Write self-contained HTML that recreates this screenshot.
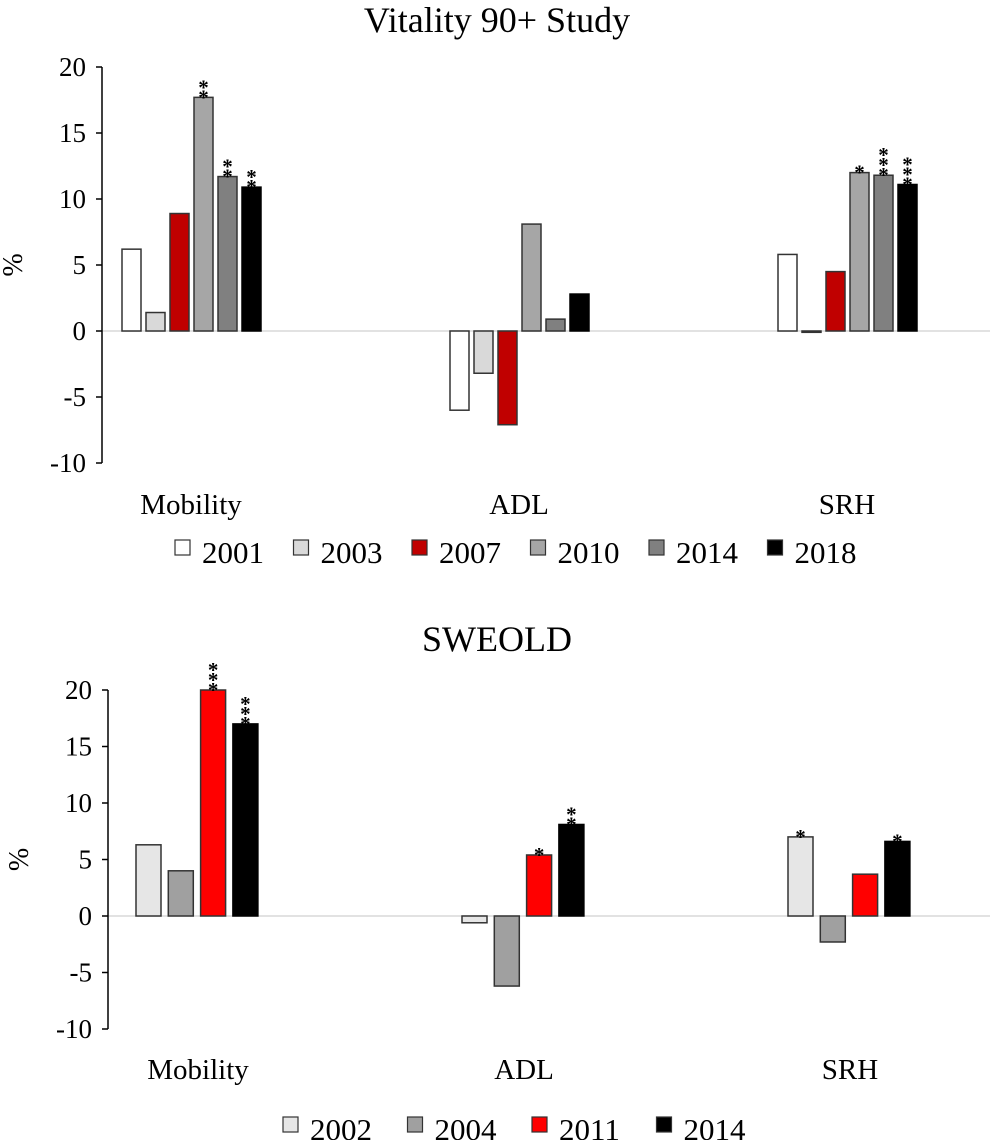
<!DOCTYPE html>
<html><head><meta charset="utf-8"><style>
html,body{margin:0;padding:0;background:#fff;}
svg{display:block;font-family:"Liberation Serif",serif;}
</style></head><body>
<svg width="995" height="1140" viewBox="0 0 995 1140" xmlns="http://www.w3.org/2000/svg">
<g id="top"></g>
<g id="bot"></g>
</svg>
<script>
const NS='http://www.w3.org/2000/svg';
const categories=['Mobility','ADL','SRH'];
const ticks=[20,15,10,5,0,-5,-10];
const topYears=['2001','2003','2007','2010','2014','2018'];
const topMobility=[6.2,1.4,8.9,17.7,11.7,10.9];
const topADL=[-6.0,-3.2,-7.1,8.1,0.9,2.8];
const topSRH=[5.8,-0.1,4.5,12.0,11.8,11.1];
const topStars=[['','','','**','**','**'],['','','','','',''],['','','','*','***','***']];
const botYears=['2002','2004','2011','2014'];
const botMobility=[6.3,4.0,20.0,17.0];
const botADL=[-0.6,-6.2,5.4,8.1];
const botSRH=[7.0,-2.3,3.7,6.6];
const botStars=[['','','***','***'],['','','*','**'],['*','','','*']];

function mk(p,tag,a,name,txt){const e=document.createElementNS(NS,tag);for(const k in a)e.setAttribute(k,a[k]);


if(txt!==undefined)e.textContent=txt;p.appendChild(e);return e;}

function draw(g,cfg){
  const y=v=>cfg.y0-v*cfg.scale;
  mk(g,'text',{x:cfg.titleX,y:cfg.titleY,'font-size':36,'text-anchor':'middle',fill:'#000'},'chart-title',cfg.title);
  mk(g,'line',{x1:cfg.ax,x2:990,y1:y(0),y2:y(0),stroke:'#d9d9d9','stroke-width':1.5},'zero-line');
  mk(g,'line',{x1:cfg.ax,x2:cfg.ax,y1:y(20),y2:y(-10),stroke:'#000','stroke-width':1.5},'y-axis');
  ticks.forEach(t=>{
    mk(g,'line',{x1:cfg.ax-6,x2:cfg.ax,y1:y(t),y2:y(t),stroke:'#000','stroke-width':1.5},'y-tick');
    mk(g,'text',{x:cfg.ax-16,y:y(t)+9,'font-size':27,'text-anchor':'end'},'y-tick-label',String(t));
  });
  mk(g,'text',{x:0,y:0,'font-size':28,'text-anchor':'middle',transform:`translate(${cfg.ax-80},${y(5)}) rotate(-90)`},'y-axis-title','%');
  cfg.series.forEach((vals,gi)=>{
    const gx=cfg.x0+gi*cfg.gap;
    mk(g,'text',{x:gx+cfg.labOff,y:cfg.labY,'font-size':29,'text-anchor':'middle'},'category-label',categories[gi]);
    vals.forEach((v,i)=>{
      const x=gx+i*cfg.step;
      const top=Math.min(y(v),y(0)), h=Math.max(Math.abs(y(v)-y(0)),1);
      mk(g,'rect',{x:x,y:top,width:cfg.bw,height:h,fill:cfg.colors[i],stroke:cfg.strokes[i],'stroke-width':1.5},'bar-'+categories[gi].toLowerCase()+'-'+cfg.years[i]);
      const s=cfg.stars[gi][i];
      for(let k=0;k<s.length;k++){
        mk(g,'text',{x:x+cfg.bw/2,y:y(v)+7-(s.length-1-k)*10,'font-size':21,'font-weight':'bold','text-anchor':'middle'},'significance-star','*');
      }
    });
  });
  cfg.years.forEach((yr,i)=>{
    const lx=cfg.legX+i*cfg.legStep;
    mk(g,'rect',{x:lx,y:cfg.legY,width:15,height:15,fill:cfg.colors[i],stroke:'#333','stroke-width':1.2},'legend-swatch-'+yr);
    mk(g,'text',{x:lx+27,y:cfg.legY+23,'font-size':31},'legend-label-'+yr,yr);
  });
}
draw(document.getElementById('top'),{title:'Vitality 90+ Study',titleX:497,titleY:32,y0:331,scale:13.2,ax:102,
  x0:122,gap:328,step:24,bw:19,labOff:69,labY:514,series:[topMobility,topADL,topSRH],stars:topStars,years:topYears,
  colors:['#ffffff','#d9d9d9','#c00000','#a6a6a6','#808080','#000000'],strokes:['#333','#333','#333','#333','#333','#000'],
  legX:175,legY:540,legStep:118.5});
draw(document.getElementById('bot'),{title:'SWEOLD',titleX:497,titleY:651,y0:916,scale:11.3,ax:108,
  x0:136,gap:326,step:32.3,bw:25,labOff:62,labY:1079,series:[botMobility,botADL,botSRH],stars:botStars,years:botYears,
  colors:['#e6e6e6','#a0a0a0','#ff0000','#000000'],strokes:['#333','#333','#333','#000'],
  legX:283,legY:1117,legStep:124.5});
</script>
</body></html>
